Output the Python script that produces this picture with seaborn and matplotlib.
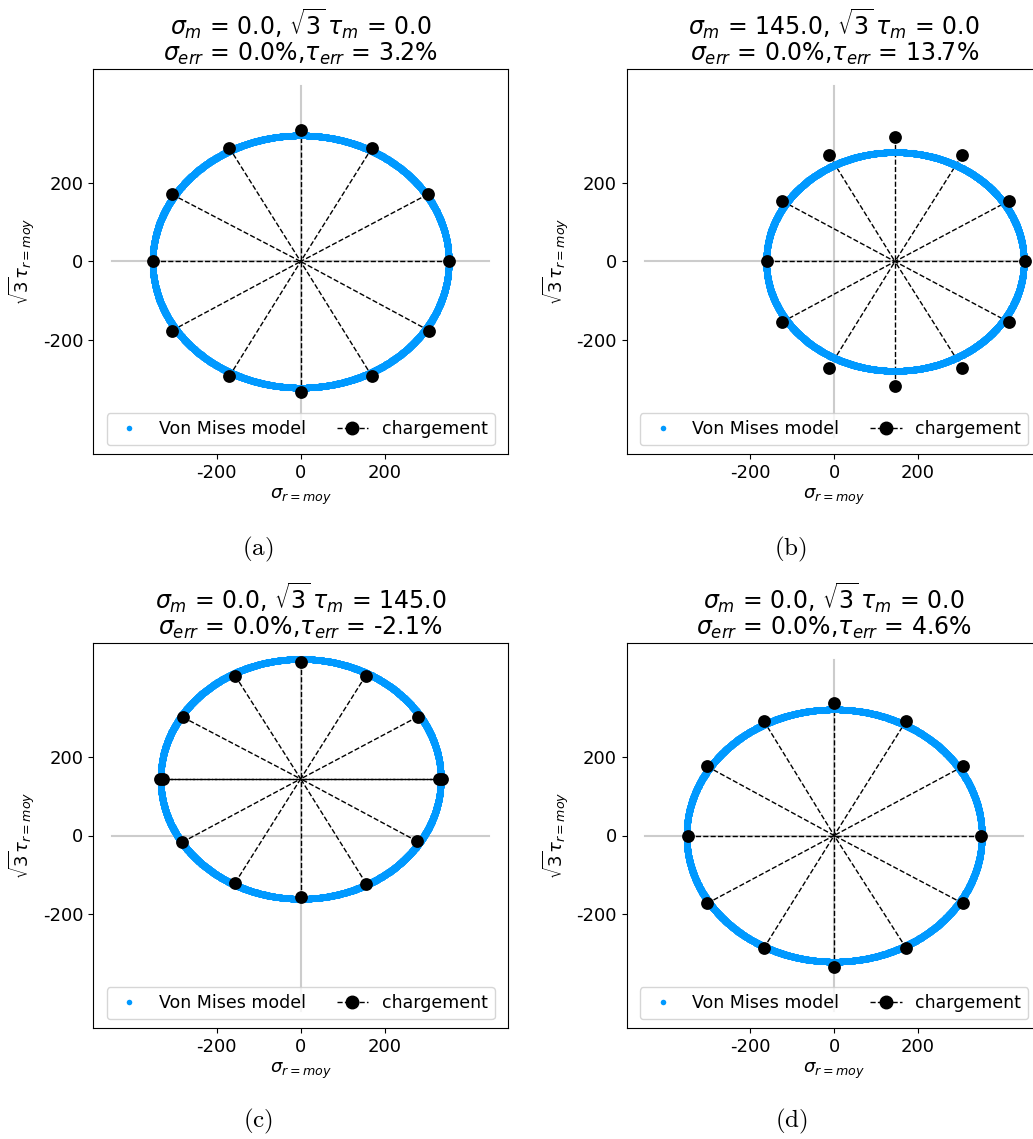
import numpy as np
import matplotlib
matplotlib.use("Agg")
import matplotlib.pyplot as plt
from matplotlib.lines import Line2D
import seaborn as sns

plt.rcParams['axes.unicode_minus'] = False

# -----------------------------------
# Data
# -----------------------------------
titles = [
    r'$\sigma_m$ = 0.0, $\sqrt{3}\,\tau_m$ = 0.0' + '\n' + r'$\sigma_{err}$ = 0.0%,$\tau_{err}$ = 3.2%',
    r'$\sigma_m$ = 145.0, $\sqrt{3}\,\tau_m$ = 0.0' + '\n' + r'$\sigma_{err}$ = 0.0%,$\tau_{err}$ = 13.7%',
    r'$\sigma_m$ = 0.0, $\sqrt{3}\,\tau_m$ = 145.0' + '\n' + r'$\sigma_{err}$ = 0.0%,$\tau_{err}$ = -2.1%',
    r'$\sigma_m$ = 0.0, $\sqrt{3}\,\tau_m$ = 0.0' + '\n' + r'$\sigma_{err}$ = 0.0%,$\tau_{err}$ = 4.6%',
]
captions = ['(a)', '(b)', '(c)', '(d)']

# mean stress (centre of the loading)
center_sigma = [0.0, 145.0, 0.0, 0.0]
center_tau = [0.0, 0.0, 145.0, 0.0]

# Von Mises model: semi axes in sigma and sqrt(3) tau
model_a = [353, 307, 334, 352]
model_b = [323, 280, 307, 323]

# loading points (chargement)
load_sigma_a = [354, 303, 170, 0, -170, -307, -352, -307, -170, 0, 170, 306]
load_tau_a = [0, 172, 291, 336, 291, 172, 0, -177, -294, -334, -294, -177]

load_sigma_b = [454, 416, 305, 145, -12, -124, -160, -124, -12, 145, 305, 416]
load_tau_b = [0, 155, 272, 319, 272, 155, 0, -155, -272, -319, -272, -155]

load_sigma_c = [329, 279, 155, 0, -156, -281, -328, -335, -282, -156, 0, 156, 278, 336]
load_tau_c = [145, 304, 409, 445, 409, 303, 145, 145, -17, -121, -157, -123, -15, 145]

load_sigma_d = [351, 307, 172, 0, -168, -303, -349, -303, -168, 0, 172, 307]
load_tau_d = [0, 177, 294, 339, 294, 177, 0, -174, -289, -338, -289, -174]

load_sigma = [load_sigma_a, load_sigma_b, load_sigma_c, load_sigma_d]
load_tau = [load_tau_a, load_tau_b, load_tau_c, load_tau_d]

ticks = [-200, 0, 200]

# -----------------------------------
# Layout (pixels of the 1033x1139 picture)
# -----------------------------------
W, H = 1033, 1139
ax_w, ax_h = 415.3, 385
ax_left = [93, 626.5, 93, 626.5]
ax_top = [69, 69, 643, 643]
cap_x = [258, 790, 258, 791]
cap_y = [549, 549, 1121, 1121]

blue = '#0099ff'
fs = 13

fig = plt.figure(figsize=(W / 100, H / 100), dpi=100)

for i in range(4):
    ax = fig.add_axes([ax_left[i] / W, 1 - (ax_top[i] + ax_h) / H, ax_w / W, ax_h / H])

    # axes lines
    ax.plot([-450, 450], [0, 0], color='0.8', lw=1.5, zorder=0)
    ax.plot([0, 0], [-450, 450], color='0.8', lw=1.5, zorder=0)

    # rays from each loading point to the centre
    for sx, ty in zip(load_sigma[i], load_tau[i]):
        ax.plot([sx, center_sigma[i]], [ty, center_tau[i]], '--', color='k', lw=1, zorder=1)

    # Von Mises model
    t = np.linspace(0, 2 * np.pi, 2000)
    sns.scatterplot(x=center_sigma[i] + model_a[i] * np.cos(t),
                    y=center_tau[i] + model_b[i] * np.sin(t),
                    s=20, color=blue, edgecolor=blue, linewidth=0.6, ax=ax, zorder=2)

    # loading points
    sns.scatterplot(x=load_sigma[i], y=load_tau[i], s=85, color='k',
                    linewidth=0, ax=ax, zorder=3)

    ax.set_xlim(-495, 495)
    ax.set_ylim(-493, 493)
    ax.set_xticks(ticks)
    ax.set_yticks(ticks)
    ax.set_xticklabels([str(v) for v in ticks])
    ax.set_yticklabels([str(v) for v in ticks])
    ax.tick_params(labelsize=fs)
    ax.set_xlabel(r'$\sigma_{r=moy}$', fontsize=fs)
    ax.set_ylabel(r'$\sqrt{3}\tau_{r=moy}$', fontsize=fs)
    ax.set_title(titles[i], fontsize=17, linespacing=1.0)

    handles = [
        Line2D([], [], ls='', marker='o', ms=4, color=blue, markeredgewidth=0),
        Line2D([], [], ls='--', lw=1, marker='o', ms=9, color='k'),
    ]
    ax.legend(handles, ['Von Mises model', 'chargement'], loc='lower center',
              ncol=2, fontsize=12.5, handlelength=1.8, columnspacing=1.8)

    fig.text(cap_x[i] / W, 1 - cap_y[i] / H, r'$\mathrm{' + captions[i] + '}$',
             ha='center', va='center', fontsize=18, math_fontfamily='cm')

fig.savefig('out.png', dpi=100)
